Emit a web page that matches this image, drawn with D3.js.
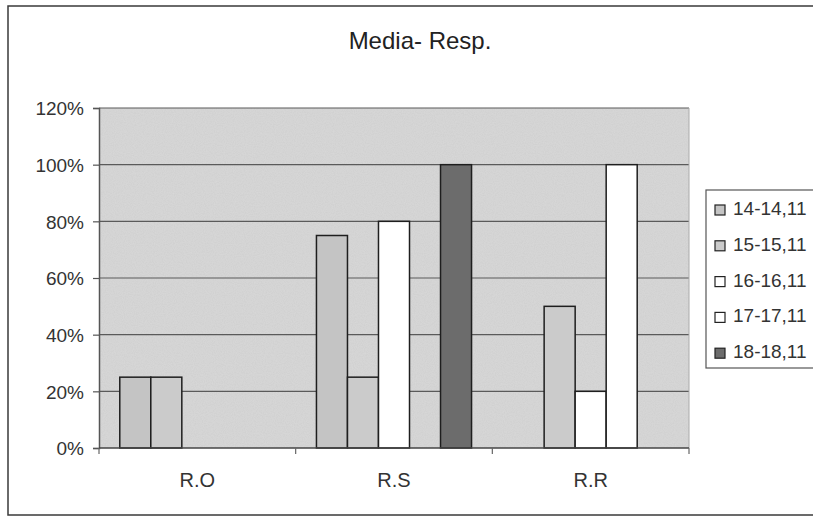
<!DOCTYPE html>
<html>
<head>
<meta charset="utf-8">
<script src="https://cdn.jsdelivr.net/npm/d3@7"></script>
<style>
  html, body { margin: 0; padding: 0; background: #fff; }
  svg { display: block; font-family: "Liberation Sans", Arial, sans-serif; }
</style>
</head>
<body>
<div id="chart"></div>
<script>
// ---- data ----
const title = "Media- Resp.";
const categories = ["R.O", "R.S", "R.R"];
const seriesNames = ["14-14,11", "15-15,11", "16-16,11", "17-17,11", "18-18,11"];
const s1 = [0.25, 0.75, 0.00];
const s2 = [0.25, 0.25, 0.50];
const s3 = [0.00, 0.80, 0.20];
const s4 = [0.00, 0.00, 1.00];
const s5 = [0.00, 1.00, 0.00];
const seriesValues = [s1, s2, s3, s4, s5];
const seriesColors = ["#c4c4c4", "#cbcbcb", "#ffffff", "#ffffff", "#6c6c6c"];
const yTicks = [0, 0.2, 0.4, 0.6, 0.8, 1.0, 1.2];

// ---- layout ----
const W = 813, H = 518;
const plot = { left: 99, right: 689, top: 108, bottom: 448 };

const svg = d3.select("#chart").append("svg").attr("width", W).attr("height", H);

// grain filter
const defs = svg.append("defs");
const f = defs.append("filter").attr("id", "grain").attr("x", 0).attr("y", 0).attr("width", 1).attr("height", 1);
f.append("feTurbulence").attr("type", "fractalNoise").attr("baseFrequency", 0.9).attr("numOctaves", 2).attr("seed", 3).attr("result", "n");
f.append("feColorMatrix").attr("in", "n").attr("type", "matrix")
  .attr("values", "0 0 0 0 0  0 0 0 0 0  0 0 0 0 0  0 0 0 0.10 0").attr("result", "na");
f.append("feComposite").attr("in", "na").attr("in2", "SourceGraphic").attr("operator", "in").attr("result", "nb");
f.append("feMerge").call(m => { m.append("feMergeNode").attr("in", "SourceGraphic"); m.append("feMergeNode").attr("in", "nb"); });

// outer chart border
svg.append("rect").attr("x", 8).attr("y", 6).attr("width", 900).attr("height", 509)
  .attr("fill", "#fff").attr("stroke", "#3a3a3a").attr("stroke-width", 1.5);

// title
svg.append("text").attr("x", 420).attr("y", 49).attr("text-anchor", "middle")
  .attr("font-size", 24).attr("fill", "#222").text(title);

// scales
const x0 = d3.scaleBand().domain(categories).range([plot.left, plot.right]).paddingInner(0).paddingOuter(0);
const x1 = d3.scaleBand().domain(d3.range(seriesNames.length)).range([0, x0.bandwidth()]).paddingInner(0).paddingOuter(0.67);
const y = d3.scaleLinear().domain([0, 1.2]).range([plot.bottom, plot.top]);

// plot background
svg.append("rect").attr("x", plot.left).attr("y", plot.top)
  .attr("width", plot.right - plot.left).attr("height", plot.bottom - plot.top)
  .attr("fill", "#d9d9d9").attr("filter", "url(#grain)");

// gridlines
svg.append("g").selectAll("line").data(yTicks.filter(d => d > 0)).join("line")
  .attr("x1", plot.left).attr("x2", plot.right)
  .attr("y1", d => y(d)).attr("y2", d => y(d))
  .attr("stroke", "#5a5a5a").attr("stroke-width", 1.2);

// right edge of plot area (faint)
svg.append("line").attr("x1", plot.right).attr("x2", plot.right).attr("y1", plot.top).attr("y2", plot.bottom)
  .attr("stroke", "#aaa").attr("stroke-width", 1);

// bars
const bars = [];
seriesValues.forEach((vals, si) => vals.forEach((v, ci) => { if (v > 0) bars.push({ si, ci, v }); }));
svg.append("g").selectAll("rect").data(bars).join("rect")
  .attr("x", d => x0(categories[d.ci]) + x1(d.si))
  .attr("width", x1.bandwidth())
  .attr("y", d => y(d.v))
  .attr("height", d => y(0) - y(d.v))
  .attr("fill", d => seriesColors[d.si])
  .attr("stroke", "#1e1e1e").attr("stroke-width", 1.5);

// y axis
const yAxis = d3.axisLeft(y).tickValues(yTicks).tickFormat(d3.format(".0%")).tickSize(6).tickPadding(9);
const ya = svg.append("g").attr("transform", `translate(${plot.left},0)`).call(yAxis);
ya.select(".domain").attr("stroke", "#555").attr("stroke-width", 1.5);
ya.selectAll(".tick line").attr("stroke", "#555").attr("stroke-width", 1.2);
ya.selectAll(".tick text").attr("font-size", 19).attr("fill", "#333").attr("font-family", "Liberation Sans, Arial, sans-serif")
  .attr("dy", "0.36em");

// x axis (ticks at category boundaries)
const xa = svg.append("g").attr("transform", `translate(0,${plot.bottom})`);
xa.append("line").attr("x1", plot.left).attr("x2", plot.right).attr("y1", 0).attr("y2", 0)
  .attr("stroke", "#444").attr("stroke-width", 1.5);
const bounds = categories.map(c => x0(c)).concat([x0(categories[categories.length - 1]) + x0.bandwidth()]);
xa.selectAll("line.tk").data(bounds).join("line").attr("class", "tk")
  .attr("x1", d => d).attr("x2", d => d).attr("y1", 0).attr("y2", 6)
  .attr("stroke", "#666").attr("stroke-width", 1.2);
xa.selectAll("text").data(categories).join("text")
  .attr("x", d => x0(d) + x0.bandwidth() / 2).attr("y", 39)
  .attr("text-anchor", "middle").attr("font-size", 20).attr("fill", "#333").text(d => d);

// legend
const lg = svg.append("g");
lg.append("rect").attr("x", 706).attr("y", 190).attr("width", 140).attr("height", 178)
  .attr("fill", "#fff").attr("stroke", "#555").attr("stroke-width", 1.2);
const items = lg.selectAll("g.item").data(seriesNames).join("g").attr("class", "item")
  .attr("transform", (d, i) => `translate(0,${215 + i * 35.8})`);
items.append("rect").attr("x", 715).attr("y", -10).attr("width", 10).attr("height", 10)
  .attr("fill", (d, i) => seriesColors[i]).attr("stroke", "#222").attr("stroke-width", 1.2);
items.append("text").attr("x", 733).attr("y", 0).attr("font-size", 19).attr("fill", "#333").text(d => d);
</script>
</body>
</html>
